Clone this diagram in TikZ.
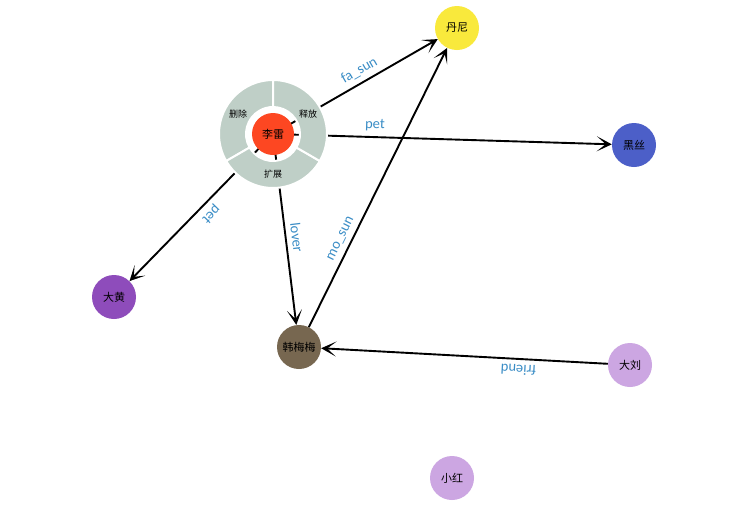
\documentclass[tikz,border=0pt]{standalone}
\usepackage{fontspec}
\setmainfont{Carlito}
\newfontfamily\cjk{Noto Sans CJK SC}
\usetikzlibrary{arrows.meta}
\definecolor{cRing}{HTML}{BFCFC7}
\definecolor{cCore}{HTML}{FD4722}
\definecolor{cDanni}{HTML}{F9E93C}
\definecolor{cHeisi}{HTML}{4C5FC8}
\definecolor{cDahuang}{HTML}{8E4CBB}
\definecolor{cHan}{HTML}{776750}
\definecolor{cLilac}{HTML}{CCA6E2}
\definecolor{cLabel}{HTML}{3A8DC6}
\tikzset{
  gn/.style={circle, minimum size=44pt, inner sep=0pt, draw=none, font=\cjk\fontsize{11}{11}\selectfont},
  edge/.style={line width=1.9pt, black, -{Stealth[length=15pt,width=15pt,inset=9pt]}},
  elabel/.style={sloped, allow upside down, text=cLabel, font=\fontsize{14.5}{14.5}\selectfont, inner sep=1pt, above=4pt},
  sector/.style={fill=cRing, draw=white, line width=2pt},
  ringtext/.style={font=\cjk\fontsize{9}{9}\selectfont, inner sep=0pt}
}
\begin{document}
\begin{tikzpicture}[x=1pt, y=-1pt]
\path[use as bounding box, fill=white] (0,0) rectangle (737,509);

% hub node and the plain nodes
\node[circle, minimum size=108pt, inner sep=0pt] (lilei) at (273,134) {};
\node[gn, fill=cDanni] (danni) at (457,28) {丹尼};
\node[gn, fill=cHeisi] (heisi) at (634,145) {黑丝};
\node[gn, fill=cDahuang] (dahuang) at (114,297) {大黄};
\node[gn, fill=cHan] (han) at (299,347) {韩梅梅};
\node[gn, fill=cLilac] (daliu) at (630,365) {大刘};
\node[gn, fill=cLilac] (xiaohong) at (452,478) {小红};

% relations
\draw[edge] (lilei.center) -- (danni) node[elabel, pos=0.56] {fa\_sun};
\draw[edge] (lilei.center) -- (heisi) node[elabel, pos=0.30] {pet};
\draw[edge] (lilei.center) -- (dahuang) node[elabel, pos=0.49] {pet};
\draw[edge] (lilei.center) -- (han) node[elabel, pos=0.55] {lover};
\draw[edge] (han) -- (danni) node[elabel, pos=0.30] {mo\_sun};
\draw[edge] (daliu) -- (han) node[elabel, pos=0.31] {friend};

% action ring around the hub
\begin{scope}[shift={(lilei.center)}]
  \path[sector] (-90:27) -- (-90:54) arc[start angle=-90, end angle=-210, radius=54]
    -- (-210:27) arc[start angle=-210, end angle=-90, radius=27] -- cycle;
  \path[sector] (-210:27) -- (-210:54) arc[start angle=-210, end angle=-330, radius=54]
    -- (-330:27) arc[start angle=-330, end angle=-210, radius=27] -- cycle;
  \path[sector] (-330:27) -- (-330:54) arc[start angle=-330, end angle=-450, radius=54]
    -- (-450:27) arc[start angle=-450, end angle=-330, radius=27] -- cycle;
\end{scope}
\node[ringtext] (del) at (238,114) {删除};
\node[ringtext] (rel) at (308,114) {释放};
\node[ringtext] (ext) at (273,174) {扩展};
\node[gn, fill=cCore, minimum size=42pt] (core) at (lilei.center) {李雷};
\end{tikzpicture}
\end{document}
